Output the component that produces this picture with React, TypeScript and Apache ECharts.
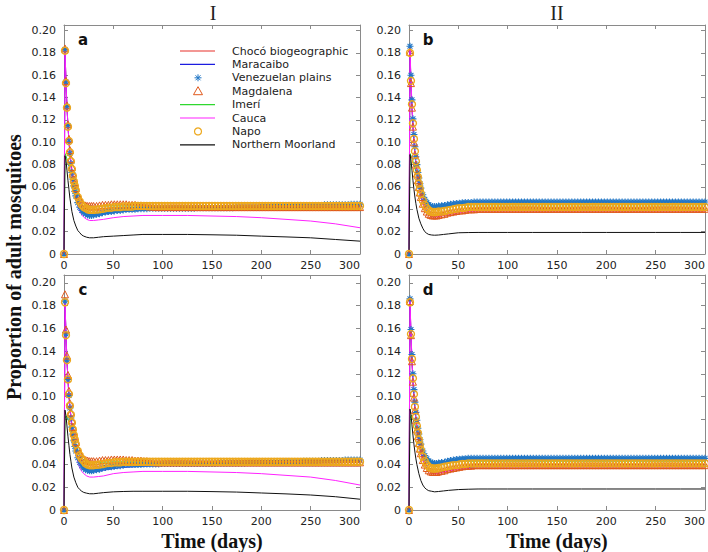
import React, { useEffect, useRef } from 'react';
import * as echarts from 'echarts';

// ---- time grids (days) ----
const TL = [0, 1, 2, 3, 4, 5, 6, 7, 8, 10, 12, 14, 16, 18, 20, 23, 26, 30, 35, 40, 50, 60, 70, 80, 100, 125, 150, 175, 200, 225, 250, 275, 300];
const TM = [0, 1, 2, 3, 4, 5, 6, 7, 8, 9, 10, 11, 12, 14, 16, 18, 20, 22, 24, 26, 28, 30,
  33, 36, 39, 42, 45, 48, 51, 54, 57, 60,
  63, 66, 69, 72, 75, 78, 81, 84, 87, 90,
  93, 96, 99, 102, 105, 108, 111, 114, 117, 120,
  123, 126, 129, 132, 135, 138, 141, 144, 147, 150,
  153, 156, 159, 162, 165, 168, 171, 174, 177, 180,
  183, 186, 189, 192, 195, 198, 201, 204, 207, 210,
  213, 216, 219, 222, 225, 228, 231, 234, 237, 240,
  243, 246, 249, 252, 255, 258, 261, 264, 267, 270,
  273, 276, 279, 282, 285, 288, 291, 294, 297, 300];

const X_TICKS = [0, 50, 100, 150, 200, 250, 300];
const NAMES = ['Chocó biogeographic', 'Maracaibo', 'Venezuelan plains', 'Magdalena', 'Imerí', 'Cauca', 'Napo', 'Northern Moorland'];

// ---- panel a (I, top) ----
const aChoco = [0, 0.183, 0.154, 0.132, 0.115, 0.102, 0.092, 0.083, 0.076, 0.065, 0.057, 0.051, 0.047, 0.044, 0.042, 0.040, 0.039, 0.0385, 0.039, 0.0395, 0.040, 0.0405, 0.041, 0.041, 0.041, 0.041, 0.041, 0.041, 0.041, 0.041, 0.041, 0.041, 0.041];
const aMara = [0, 0.183, 0.154, 0.132, 0.115, 0.101, 0.090, 0.081, 0.073, 0.061, 0.052, 0.046, 0.041, 0.038, 0.036, 0.0345, 0.034, 0.034, 0.0345, 0.0355, 0.037, 0.038, 0.0385, 0.039, 0.0395, 0.0395, 0.0395, 0.0395, 0.0395, 0.0395, 0.0395, 0.0395, 0.0395];
const aImeri = [0, 0.090, 0.088, 0.085, 0.082, 0.079, 0.076, 0.073, 0.070, 0.065, 0.060, 0.055, 0.051, 0.048, 0.046, 0.044, 0.043, 0.0425, 0.0425, 0.043, 0.043, 0.043, 0.043, 0.043, 0.043, 0.043, 0.043, 0.043, 0.043, 0.043, 0.043, 0.043, 0.043];
const aCauca = [0, 0.183, 0.154, 0.132, 0.115, 0.101, 0.090, 0.080, 0.072, 0.059, 0.050, 0.043, 0.038, 0.035, 0.033, 0.031, 0.030, 0.030, 0.0305, 0.031, 0.0325, 0.0335, 0.034, 0.0345, 0.0345, 0.0345, 0.034, 0.0335, 0.0325, 0.031, 0.0295, 0.027, 0.0235];
const aMoor = [0, 0.088, 0.084, 0.075, 0.066, 0.058, 0.050, 0.044, 0.038, 0.030, 0.025, 0.021, 0.019, 0.017, 0.016, 0.015, 0.0145, 0.0145, 0.015, 0.0155, 0.016, 0.0165, 0.017, 0.0175, 0.0175, 0.0175, 0.0172, 0.0168, 0.016, 0.0153, 0.0145, 0.013, 0.0115];
const aVen = [0, 0.183, 0.154, 0.132, 0.115, 0.101, 0.090, 0.081, 0.073, 0.067, 0.061, 0.056, 0.052,
  0.046, 0.042, 0.039, 0.037, 0.036, 0.035, 0.0345, 0.0345, 0.035,
  0.0355, 0.036, 0.037, 0.0375, 0.038, 0.038, 0.0385, 0.039, 0.039, 0.0395,
  0.040, 0.040, 0.040, 0.040, 0.0405, 0.0405, 0.0405, 0.0405, 0.041, 0.041,
  0.041, 0.041, 0.041, 0.041, 0.041, 0.041, 0.041, 0.041, 0.041, 0.041,
  0.041, 0.041, 0.041, 0.041, 0.0415, 0.0415, 0.0415, 0.0415, 0.0415, 0.0415,
  0.0415, 0.0415, 0.0415, 0.0415, 0.0415, 0.0415, 0.0415, 0.042, 0.042, 0.042,
  0.042, 0.042, 0.042, 0.042, 0.042, 0.042, 0.0425, 0.0425, 0.0425, 0.0425,
  0.043, 0.043, 0.043, 0.043, 0.043, 0.043, 0.043, 0.043, 0.043, 0.0435,
  0.0435, 0.0435, 0.0435, 0.0435, 0.0435, 0.0435, 0.0435, 0.044, 0.044, 0.044,
  0.044, 0.044, 0.044, 0.044, 0.044, 0.044, 0.0445, 0.0445, 0.0445, 0.0445];
const aMag = [0, 0.184, 0.155, 0.133, 0.116, 0.103, 0.093, 0.085, 0.078, 0.072, 0.067, 0.063, 0.059,
  0.053, 0.049, 0.046, 0.044, 0.0435, 0.043, 0.043, 0.043, 0.043,
  0.043, 0.0435, 0.044, 0.044, 0.044, 0.0445, 0.0445, 0.0445, 0.0445, 0.0445,
  0.0445, 0.044, 0.044, 0.044, 0.0435, 0.0435, 0.043, 0.043, 0.0425, 0.0425,
  0.042, 0.042, 0.042, 0.042, 0.042, 0.042, 0.042, 0.042, 0.042, 0.042,
  0.042, 0.042, 0.042, 0.042, 0.042, 0.042, 0.042, 0.042, 0.042, 0.042,
  0.042, 0.042, 0.042, 0.042, 0.042, 0.042, 0.042, 0.042, 0.042, 0.042,
  0.042, 0.042, 0.042, 0.042, 0.042, 0.042, 0.042, 0.042, 0.042, 0.042,
  0.042, 0.042, 0.042, 0.042, 0.042, 0.042, 0.042, 0.042, 0.042, 0.042,
  0.042, 0.042, 0.042, 0.042, 0.042, 0.042, 0.042, 0.042, 0.042, 0.042,
  0.042, 0.042, 0.042, 0.042, 0.042, 0.042, 0.042, 0.042, 0.042, 0.042];
const aNapo = [0, 0.182, 0.153, 0.131, 0.114, 0.101, 0.091, 0.083, 0.076, 0.070, 0.065, 0.061, 0.057,
  0.051, 0.047, 0.044, 0.042, 0.041, 0.040, 0.0395, 0.0395, 0.0395,
  0.0398, 0.040, 0.0405, 0.041, 0.0415, 0.0415, 0.042, 0.042, 0.042, 0.0425,
  0.0425, 0.0425, 0.0425, 0.043, 0.043, 0.043, 0.043, 0.043, 0.043, 0.043,
  0.043, 0.043, 0.043, 0.043, 0.043, 0.043, 0.043, 0.043, 0.043, 0.043,
  0.043, 0.043, 0.043, 0.043, 0.043, 0.043, 0.043, 0.043, 0.043, 0.043,
  0.043, 0.043, 0.043, 0.043, 0.043, 0.043, 0.043, 0.043, 0.043, 0.043,
  0.043, 0.043, 0.043, 0.043, 0.043, 0.043, 0.043, 0.043, 0.043, 0.043,
  0.043, 0.043, 0.043, 0.043, 0.043, 0.043, 0.043, 0.043, 0.043, 0.043,
  0.043, 0.043, 0.043, 0.043, 0.043, 0.043, 0.043, 0.043, 0.043, 0.043,
  0.043, 0.043, 0.043, 0.043, 0.043, 0.043, 0.043, 0.043, 0.043, 0.043];

// ---- panel b (II, top) ----
const bChoco = [0, 0.181, 0.153, 0.131, 0.114, 0.100, 0.089, 0.080, 0.072, 0.060, 0.051, 0.045, 0.040, 0.037, 0.035, 0.0335, 0.033, 0.0335, 0.0345, 0.0355, 0.037, 0.038, 0.0385, 0.0385, 0.0385, 0.0385, 0.0385, 0.0385, 0.0385, 0.0385, 0.0385, 0.0385, 0.0385];
const bMara = [0, 0.182, 0.154, 0.132, 0.115, 0.101, 0.090, 0.081, 0.073, 0.061, 0.052, 0.046, 0.041, 0.038, 0.036, 0.0345, 0.034, 0.0345, 0.0355, 0.0365, 0.038, 0.039, 0.0395, 0.0395, 0.0395, 0.0395, 0.0395, 0.0395, 0.0395, 0.0395, 0.0395, 0.0395, 0.0395];
const bImeri = [0, 0.090, 0.088, 0.086, 0.083, 0.080, 0.077, 0.074, 0.071, 0.065, 0.060, 0.055, 0.051, 0.048, 0.046, 0.044, 0.043, 0.042, 0.0425, 0.043, 0.0435, 0.044, 0.044, 0.044, 0.044, 0.044, 0.044, 0.044, 0.044, 0.044, 0.044, 0.044, 0.044];
const bCauca = [0, 0.184, 0.156, 0.134, 0.116, 0.102, 0.090, 0.081, 0.073, 0.060, 0.051, 0.045, 0.040, 0.037, 0.035, 0.0335, 0.033, 0.0335, 0.0345, 0.0355, 0.037, 0.038, 0.0385, 0.0385, 0.0385, 0.0385, 0.0385, 0.0385, 0.0385, 0.0385, 0.0385, 0.0385, 0.0385];
const bMoor = [0, 0.089, 0.084, 0.075, 0.066, 0.058, 0.051, 0.045, 0.040, 0.032, 0.027, 0.023, 0.020, 0.0185, 0.0175, 0.017, 0.0168, 0.017, 0.0175, 0.018, 0.019, 0.0192, 0.0193, 0.0193, 0.0193, 0.0193, 0.0193, 0.0193, 0.0193, 0.0193, 0.0193, 0.0193, 0.0193];
const bVen = [0, 0.186, 0.160, 0.138, 0.121, 0.107, 0.096, 0.087, 0.080, 0.073, 0.068, 0.063, 0.059,
  0.053, 0.049, 0.046, 0.044, 0.043, 0.0425, 0.0425, 0.0425, 0.043,
  0.0432, 0.0435, 0.044, 0.0445, 0.045, 0.0452, 0.0455, 0.0458, 0.046, 0.046,
  0.046, 0.0465, 0.0465, 0.0465, 0.0465, 0.0465, 0.0465, 0.0465, 0.0465, 0.0465,
  0.0465, 0.0465, 0.0465, 0.0465, 0.0465, 0.0465, 0.0465, 0.0465, 0.0465, 0.0465,
  0.0465, 0.0465, 0.0465, 0.0465, 0.0465, 0.0465, 0.0465, 0.0465, 0.0465, 0.0465,
  0.0465, 0.0465, 0.0465, 0.0465, 0.0465, 0.0465, 0.0465, 0.0465, 0.0465, 0.0465,
  0.0465, 0.0465, 0.0465, 0.0465, 0.0465, 0.0465, 0.0465, 0.0465, 0.0465, 0.0465,
  0.0465, 0.0465, 0.0465, 0.0465, 0.0465, 0.0465, 0.0465, 0.0465, 0.0465, 0.0465,
  0.0465, 0.0465, 0.0465, 0.0465, 0.0465, 0.0465, 0.0465, 0.0465, 0.0465, 0.0465,
  0.0465, 0.0465, 0.0465, 0.0465, 0.0465, 0.0465, 0.0465, 0.0465, 0.0465, 0.0465];
const bMag = [0, 0.181, 0.153, 0.131, 0.114, 0.100, 0.089, 0.080, 0.072, 0.066, 0.060, 0.055, 0.051,
  0.045, 0.041, 0.038, 0.036, 0.035, 0.0345, 0.0345, 0.0345, 0.035,
  0.0355, 0.036, 0.037, 0.0375, 0.038, 0.0385, 0.039, 0.039, 0.0395, 0.040,
  0.040, 0.040, 0.0405, 0.0405, 0.0405, 0.0405, 0.0405, 0.0405, 0.0405, 0.0405,
  0.0405, 0.0405, 0.0405, 0.0405, 0.0405, 0.0405, 0.0405, 0.0405, 0.0405, 0.0405,
  0.0405, 0.0405, 0.0405, 0.0405, 0.0405, 0.0405, 0.0405, 0.0405, 0.0405, 0.0405,
  0.0405, 0.0405, 0.0405, 0.0405, 0.0405, 0.0405, 0.0405, 0.0405, 0.0405, 0.0405,
  0.0405, 0.0405, 0.0405, 0.0405, 0.0405, 0.0405, 0.0405, 0.0405, 0.0405, 0.0405,
  0.0405, 0.0405, 0.0405, 0.0405, 0.0405, 0.0405, 0.0405, 0.0405, 0.0405, 0.0405,
  0.0405, 0.0405, 0.0405, 0.0405, 0.0405, 0.0405, 0.0405, 0.0405, 0.0405, 0.0405,
  0.0405, 0.0405, 0.0405, 0.0405, 0.0405, 0.0405, 0.0405, 0.0405, 0.0405, 0.0405];
const bNapo = [0, 0.180, 0.155, 0.134, 0.117, 0.103, 0.092, 0.083, 0.075, 0.069, 0.063, 0.058, 0.054,
  0.048, 0.044, 0.041, 0.039, 0.038, 0.0375, 0.0375, 0.0375, 0.038,
  0.038, 0.0385, 0.039, 0.0395, 0.040, 0.0405, 0.041, 0.041, 0.0415, 0.042,
  0.042, 0.042, 0.042, 0.042, 0.042, 0.042, 0.042, 0.042, 0.042, 0.042,
  0.042, 0.042, 0.042, 0.042, 0.042, 0.042, 0.042, 0.042, 0.042, 0.042,
  0.042, 0.042, 0.042, 0.042, 0.042, 0.042, 0.042, 0.042, 0.042, 0.042,
  0.042, 0.042, 0.042, 0.042, 0.042, 0.042, 0.042, 0.042, 0.042, 0.042,
  0.042, 0.042, 0.042, 0.042, 0.042, 0.042, 0.042, 0.042, 0.042, 0.042,
  0.042, 0.042, 0.042, 0.042, 0.042, 0.042, 0.042, 0.042, 0.042, 0.042,
  0.042, 0.042, 0.042, 0.042, 0.042, 0.042, 0.042, 0.042, 0.042, 0.042,
  0.042, 0.042, 0.042, 0.042, 0.042, 0.042, 0.042, 0.042, 0.042, 0.042];

// ---- panel c (I, bottom) ----
const cChoco = [0, 0.183, 0.154, 0.132, 0.115, 0.102, 0.092, 0.083, 0.076, 0.065, 0.057, 0.051, 0.047, 0.044, 0.042, 0.040, 0.039, 0.0385, 0.0385, 0.039, 0.0395, 0.040, 0.040, 0.040, 0.040, 0.040, 0.040, 0.040, 0.040, 0.040, 0.040, 0.040, 0.040];
const cMara = [0, 0.184, 0.155, 0.132, 0.115, 0.101, 0.090, 0.081, 0.073, 0.061, 0.052, 0.046, 0.041, 0.038, 0.036, 0.034, 0.0335, 0.0335, 0.034, 0.035, 0.0365, 0.0375, 0.038, 0.0385, 0.039, 0.039, 0.039, 0.039, 0.039, 0.039, 0.039, 0.039, 0.039];
const cImeri = [0, 0.080, 0.083, 0.082, 0.080, 0.077, 0.074, 0.071, 0.068, 0.063, 0.058, 0.053, 0.049, 0.046, 0.044, 0.0425, 0.042, 0.0415, 0.042, 0.042, 0.0425, 0.0425, 0.0425, 0.0425, 0.0425, 0.0425, 0.0425, 0.0425, 0.0425, 0.0425, 0.0425, 0.0425, 0.0425];
const cCauca = [0, 0.184, 0.155, 0.132, 0.115, 0.101, 0.090, 0.080, 0.072, 0.059, 0.049, 0.042, 0.037, 0.034, 0.032, 0.030, 0.029, 0.029, 0.0295, 0.030, 0.032, 0.033, 0.0335, 0.034, 0.034, 0.034, 0.0335, 0.033, 0.032, 0.0305, 0.029, 0.026, 0.022];
const cMoor = [0, 0.088, 0.083, 0.074, 0.065, 0.057, 0.049, 0.043, 0.037, 0.029, 0.024, 0.020, 0.018, 0.0165, 0.0155, 0.0148, 0.0143, 0.0143, 0.0148, 0.0153, 0.016, 0.0163, 0.0165, 0.0165, 0.0165, 0.0165, 0.0162, 0.0158, 0.015, 0.0142, 0.0132, 0.0117, 0.0095];
const cVen = [0, 0.184, 0.155, 0.132, 0.115, 0.101, 0.090, 0.081, 0.073, 0.067, 0.061, 0.056, 0.052,
  0.046, 0.042, 0.039, 0.037, 0.0355, 0.035, 0.0345, 0.0345, 0.035,
  0.0355, 0.036, 0.037, 0.0375, 0.038, 0.038, 0.0385, 0.039, 0.039, 0.0395,
  0.040, 0.040, 0.040, 0.040, 0.040, 0.040, 0.0405, 0.0405, 0.0405, 0.0405,
  0.0405, 0.0405, 0.041, 0.041, 0.041, 0.041, 0.041, 0.041, 0.041, 0.041,
  0.041, 0.041, 0.041, 0.041, 0.041, 0.041, 0.041, 0.041, 0.041, 0.041,
  0.041, 0.0415, 0.0415, 0.0415, 0.0415, 0.0415, 0.0415, 0.0415, 0.0415, 0.0415,
  0.0415, 0.042, 0.042, 0.042, 0.042, 0.042, 0.042, 0.042, 0.042, 0.042,
  0.042, 0.042, 0.042, 0.0425, 0.0425, 0.0425, 0.0425, 0.0425, 0.0425, 0.0425,
  0.043, 0.043, 0.043, 0.043, 0.043, 0.043, 0.0435, 0.0435, 0.0435, 0.0435,
  0.0435, 0.0435, 0.0435, 0.0435, 0.044, 0.044, 0.044, 0.044, 0.044, 0.044];
const cMag = [0, 0.190, 0.159, 0.136, 0.119, 0.105, 0.094, 0.086, 0.079, 0.073, 0.068, 0.064, 0.060,
  0.054, 0.050, 0.047, 0.045, 0.044, 0.0435, 0.043, 0.043, 0.043,
  0.043, 0.0435, 0.044, 0.044, 0.044, 0.0445, 0.0445, 0.0445, 0.0445, 0.0445,
  0.044, 0.044, 0.044, 0.0435, 0.0435, 0.0435, 0.043, 0.043, 0.0425, 0.0425,
  0.042, 0.042, 0.042, 0.042, 0.042, 0.042, 0.042, 0.042, 0.042, 0.042,
  0.042, 0.042, 0.042, 0.042, 0.042, 0.042, 0.042, 0.042, 0.042, 0.042,
  0.042, 0.042, 0.042, 0.042, 0.042, 0.042, 0.042, 0.042, 0.042, 0.042,
  0.042, 0.042, 0.042, 0.042, 0.042, 0.042, 0.042, 0.042, 0.042, 0.042,
  0.042, 0.042, 0.042, 0.042, 0.042, 0.042, 0.042, 0.042, 0.042, 0.042,
  0.042, 0.042, 0.042, 0.042, 0.042, 0.042, 0.042, 0.042, 0.042, 0.042,
  0.042, 0.042, 0.042, 0.042, 0.042, 0.042, 0.042, 0.042, 0.042, 0.042];
const cNapo = [0, 0.183, 0.154, 0.132, 0.115, 0.102, 0.092, 0.084, 0.077, 0.071, 0.066, 0.062, 0.058,
  0.052, 0.048, 0.045, 0.043, 0.041, 0.040, 0.0395, 0.0395, 0.0395,
  0.0398, 0.040, 0.0405, 0.041, 0.0415, 0.0415, 0.042, 0.042, 0.042, 0.0425,
  0.0425, 0.0425, 0.0425, 0.0425, 0.0425, 0.0425, 0.0425, 0.0425, 0.0425, 0.0425,
  0.0425, 0.0425, 0.0425, 0.0425, 0.0425, 0.0425, 0.0425, 0.0425, 0.0425, 0.0425,
  0.0425, 0.0425, 0.0425, 0.0425, 0.0425, 0.0425, 0.0425, 0.0425, 0.0425, 0.0425,
  0.0425, 0.0425, 0.0425, 0.0425, 0.0425, 0.0425, 0.0425, 0.0425, 0.0425, 0.0425,
  0.0425, 0.0425, 0.0425, 0.0425, 0.0425, 0.0425, 0.0425, 0.0425, 0.0425, 0.0425,
  0.0425, 0.0425, 0.0425, 0.0425, 0.0425, 0.0425, 0.0425, 0.0425, 0.0425, 0.0425,
  0.0425, 0.0425, 0.0425, 0.0425, 0.0425, 0.0425, 0.0425, 0.0425, 0.0425, 0.0425,
  0.0425, 0.0425, 0.0425, 0.0425, 0.0425, 0.0425, 0.0425, 0.0425, 0.0425, 0.0425];

// ---- panel d (II, bottom) ----
const dChoco = [0, 0.183, 0.154, 0.131, 0.113, 0.099, 0.088, 0.079, 0.071, 0.059, 0.050, 0.044, 0.039, 0.036, 0.034, 0.0325, 0.032, 0.0325, 0.0335, 0.0345, 0.036, 0.0365, 0.037, 0.037, 0.037, 0.037, 0.037, 0.037, 0.037, 0.037, 0.037, 0.037, 0.037];
const dMara = [0, 0.184, 0.155, 0.132, 0.114, 0.100, 0.089, 0.080, 0.072, 0.060, 0.051, 0.045, 0.040, 0.037, 0.035, 0.0335, 0.033, 0.0335, 0.0345, 0.0355, 0.037, 0.0375, 0.038, 0.038, 0.038, 0.038, 0.038, 0.038, 0.038, 0.038, 0.038, 0.038, 0.038];
const dImeri = [0, 0.080, 0.083, 0.083, 0.081, 0.078, 0.075, 0.072, 0.069, 0.064, 0.059, 0.054, 0.050, 0.047, 0.045, 0.043, 0.042, 0.0415, 0.042, 0.0425, 0.043, 0.043, 0.043, 0.043, 0.043, 0.043, 0.043, 0.043, 0.043, 0.043, 0.043, 0.043, 0.043];
const dCauca = [0, 0.185, 0.156, 0.133, 0.115, 0.101, 0.089, 0.080, 0.072, 0.059, 0.050, 0.044, 0.039, 0.036, 0.034, 0.0325, 0.032, 0.0325, 0.0335, 0.0345, 0.036, 0.0365, 0.037, 0.037, 0.037, 0.037, 0.037, 0.037, 0.037, 0.037, 0.037, 0.037, 0.037];
const dMoor = [0, 0.089, 0.084, 0.075, 0.066, 0.058, 0.051, 0.045, 0.040, 0.032, 0.026, 0.022, 0.0195, 0.018, 0.017, 0.0165, 0.016, 0.0163, 0.0168, 0.0173, 0.018, 0.0183, 0.0185, 0.0185, 0.0185, 0.0185, 0.0185, 0.0185, 0.0185, 0.0185, 0.0185, 0.0185, 0.0185];
const dVen = [0, 0.186, 0.159, 0.137, 0.120, 0.106, 0.095, 0.086, 0.079, 0.072, 0.067, 0.062, 0.058,
  0.052, 0.048, 0.045, 0.043, 0.042, 0.0415, 0.041, 0.041, 0.0415,
  0.0418, 0.042, 0.043, 0.0435, 0.044, 0.0445, 0.0448, 0.045, 0.0452, 0.0455,
  0.0455, 0.0455, 0.0455, 0.0455, 0.0455, 0.0455, 0.0455, 0.0455, 0.0455, 0.0455,
  0.0455, 0.0455, 0.0455, 0.0455, 0.0455, 0.0455, 0.0455, 0.0455, 0.0455, 0.0455,
  0.0455, 0.0455, 0.0455, 0.0455, 0.0455, 0.0455, 0.0455, 0.0455, 0.0455, 0.0455,
  0.0455, 0.0455, 0.0455, 0.0455, 0.0455, 0.0455, 0.0455, 0.0455, 0.0455, 0.0455,
  0.0455, 0.0455, 0.0455, 0.0455, 0.0455, 0.0455, 0.0455, 0.0455, 0.0455, 0.0455,
  0.0455, 0.0455, 0.0455, 0.0455, 0.0455, 0.0455, 0.0455, 0.0455, 0.0455, 0.0455,
  0.0455, 0.0455, 0.0455, 0.0455, 0.0455, 0.0455, 0.0455, 0.0455, 0.0455, 0.0455,
  0.0455, 0.0455, 0.0455, 0.0455, 0.0455, 0.0455, 0.0455, 0.0455, 0.0455, 0.0455];
const dMag = [0, 0.184, 0.154, 0.131, 0.113, 0.099, 0.088, 0.079, 0.071, 0.065, 0.059, 0.054, 0.050,
  0.044, 0.040, 0.037, 0.035, 0.034, 0.0335, 0.0335, 0.0335, 0.034,
  0.0345, 0.035, 0.036, 0.0365, 0.037, 0.0375, 0.038, 0.0385, 0.039, 0.039,
  0.039, 0.0395, 0.0395, 0.0395, 0.0395, 0.0395, 0.0395, 0.0395, 0.0395, 0.0395,
  0.0395, 0.0395, 0.0395, 0.0395, 0.0395, 0.0395, 0.0395, 0.0395, 0.0395, 0.0395,
  0.0395, 0.0395, 0.0395, 0.0395, 0.0395, 0.0395, 0.0395, 0.0395, 0.0395, 0.0395,
  0.0395, 0.0395, 0.0395, 0.0395, 0.0395, 0.0395, 0.0395, 0.0395, 0.0395, 0.0395,
  0.0395, 0.0395, 0.0395, 0.0395, 0.0395, 0.0395, 0.0395, 0.0395, 0.0395, 0.0395,
  0.0395, 0.0395, 0.0395, 0.0395, 0.0395, 0.0395, 0.0395, 0.0395, 0.0395, 0.0395,
  0.0395, 0.0395, 0.0395, 0.0395, 0.0395, 0.0395, 0.0395, 0.0395, 0.0395, 0.0395,
  0.0395, 0.0395, 0.0395, 0.0395, 0.0395, 0.0395, 0.0395, 0.0395, 0.0395, 0.0395];
const dNapo = [0, 0.183, 0.155, 0.133, 0.116, 0.102, 0.091, 0.082, 0.074, 0.068, 0.062, 0.057, 0.053,
  0.047, 0.043, 0.040, 0.038, 0.037, 0.0365, 0.0365, 0.0365, 0.037,
  0.0375, 0.038, 0.0385, 0.039, 0.0395, 0.0395, 0.040, 0.0405, 0.0405, 0.041,
  0.041, 0.041, 0.041, 0.041, 0.041, 0.041, 0.041, 0.041, 0.041, 0.041,
  0.041, 0.041, 0.041, 0.041, 0.041, 0.041, 0.041, 0.041, 0.041, 0.041,
  0.041, 0.041, 0.041, 0.041, 0.041, 0.041, 0.041, 0.041, 0.041, 0.041,
  0.041, 0.041, 0.041, 0.041, 0.041, 0.041, 0.041, 0.041, 0.041, 0.041,
  0.041, 0.041, 0.041, 0.041, 0.041, 0.041, 0.041, 0.041, 0.041, 0.041,
  0.041, 0.041, 0.041, 0.041, 0.041, 0.041, 0.041, 0.041, 0.041, 0.041,
  0.041, 0.041, 0.041, 0.041, 0.041, 0.041, 0.041, 0.041, 0.041, 0.041,
  0.041, 0.041, 0.041, 0.041, 0.041, 0.041, 0.041, 0.041, 0.041, 0.041];

const C = {
  choco: '#e8302a', mara: '#1c1ce0', ven: '#2277c6', mag: '#e05a1e',
  imeri: '#2fd82f', cauca: '#ff22ff', napo: '#eda81c', moor: '#111111',
};
const AX = '#8a8a8a';
const ASTERISK = 'path://M0,5L10,5M5,0L5,10M1.5,1.5L8.5,8.5M8.5,1.5L1.5,8.5';
const SANS = '"DejaVu Sans", Verdana, sans-serif';
const SERIF = '"Liberation Serif", "Times New Roman", serif';

const PANELS = [
  { letter: 'a', left: 64, top: 25, height: 229, yMax: 0.205, L: [aChoco, aMara, aImeri, aCauca, aMoor], M: [aVen, aMag, aNapo] },
  { letter: 'b', left: 409, top: 25, height: 229, yMax: 0.205, L: [bChoco, bMara, bImeri, bCauca, bMoor], M: [bVen, bMag, bNapo] },
  { letter: 'c', left: 64, top: 275, height: 235, yMax: 0.207, L: [cChoco, cMara, cImeri, cCauca, cMoor], M: [cVen, cMag, cNapo] },
  { letter: 'd', left: 409, top: 275, height: 235, yMax: 0.207, L: [dChoco, dMara, dImeri, dCauca, dMoor], M: [dVen, dMag, dNapo] },
];
const PW = 296;

function buildOption() {
  const grid: any[] = [];
  const xAxis: any[] = [];
  const yAxis: any[] = [];
  const series: any[] = [];
  const graphic: any[] = [];
  const lineKeys = ['choco', 'mara', 'imeri', 'cauca', 'moor'];
  const lineNames = [NAMES[0], NAMES[1], NAMES[4], NAMES[5], NAMES[7]];
  const markKeys = ['ven', 'mag', 'napo'];
  const markNames = [NAMES[2], NAMES[3], NAMES[6]];
  const markSym = [ASTERISK, 'triangle', 'circle'];
  const markSize = [7, 7, 7];
  const markBorder = [1.1, 1, 1.4];

  PANELS.forEach((p, i) => {
    grid.push({ left: p.left, top: p.top, width: PW, height: p.height });
    const common = {
      gridIndex: i, type: 'value', min: 0, max: X_TICKS[X_TICKS.length - 1], interval: 50,
      splitLine: { show: false },
      axisLine: { show: true, onZero: false, lineStyle: { color: AX, width: 1 } },
      axisTick: { show: true, inside: true, length: 4, lineStyle: { color: AX } },
    };
    xAxis.push({
      ...common, position: 'bottom',
      axisLabel: { show: true, fontSize: 11, fontFamily: SANS, color: '#222', margin: 6, alignMaxLabel: 'right' },
    });
    xAxis.push({ ...common, position: 'top', axisLabel: { show: false } });
    const ycommon = {
      gridIndex: i, type: 'value', min: 0, max: p.yMax, interval: 0.02,
      splitLine: { show: false },
      axisLine: { show: true, onZero: false, lineStyle: { color: AX, width: 1 } },
      axisTick: { show: true, inside: true, length: 4, lineStyle: { color: AX } },
    };
    yAxis.push({
      ...ycommon, position: 'left',
      axisLabel: {
        show: true, fontSize: 11, fontFamily: SANS, color: '#222', margin: 8, showMaxLabel: false,
        padding: [0, 0, 8, 0],
        formatter: (v: number) => (v === 0 ? '0' : v.toFixed(2)),
      },
    });
    yAxis.push({ ...ycommon, position: 'right', axisLabel: { show: false } });

    p.L.forEach((vals, k) => {
      series.push({
        type: 'line', name: lineNames[k], xAxisIndex: 2 * i, yAxisIndex: 2 * i,
        data: TL.map((t, j) => [t, vals[j]]),
        showSymbol: false, symbol: 'none', smooth: false,
        lineStyle: { color: (C as any)[lineKeys[k]], width: 1 },
        itemStyle: { color: (C as any)[lineKeys[k]] },
        z: 2,
      });
    });
    p.M.forEach((vals, k) => {
      const col = (C as any)[markKeys[k]];
      series.push({
        type: 'line', name: markNames[k], xAxisIndex: 2 * i, yAxisIndex: 2 * i,
        data: TM.map((t, j) => [t, vals[j]]),
        showSymbol: true, showAllSymbol: true, symbol: markSym[k], symbolSize: markSize[k],
        lineStyle: { opacity: 0, width: 0 },
        itemStyle: { color: 'rgba(0,0,0,0)', borderColor: col, borderWidth: markBorder[k] },
        z: 3,
      });
    });

    graphic.push({
      type: 'text', x: p.left + 19, y: p.top + 15,
      style: { text: p.letter, font: `bold 15px ${SANS}`, fill: '#111', align: 'center', verticalAlign: 'middle' },
    });
  });

  // titles
  graphic.push({ type: 'text', x: 213, y: 13, style: { text: 'I', font: `20px ${SERIF}`, fill: '#222', align: 'center', verticalAlign: 'middle' } });
  graphic.push({ type: 'text', x: 557, y: 13, style: { text: 'II', font: `20px ${SERIF}`, fill: '#222', align: 'center', verticalAlign: 'middle' } });
  graphic.push({ type: 'text', x: 212, y: 541, style: { text: 'Time (days)', font: `bold 20px ${SERIF}`, fill: '#111', align: 'center', verticalAlign: 'middle' } });
  graphic.push({ type: 'text', x: 557, y: 541, style: { text: 'Time (days)', font: `bold 20px ${SERIF}`, fill: '#111', align: 'center', verticalAlign: 'middle' } });
  graphic.push({ type: 'text', x: 14, y: 267, rotation: Math.PI / 2, style: { text: 'Proportion of adult mosquitoes', font: `bold 20px ${SERIF}`, fill: '#111', align: 'center', verticalAlign: 'middle' } });

  // legend (panel a)
  const kinds = ['line', 'line', 'ast', 'tri', 'line', 'line', 'circ', 'line'];
  const cols = [C.choco, C.mara, C.ven, C.mag, C.imeri, C.cauca, C.napo, C.moor];
  NAMES.forEach((name, k) => {
    const y = 51 + k * 13.4;
    const c = cols[k];
    const cx = 198;
    if (kinds[k] === 'line') {
      graphic.push({ type: 'line', shape: { x1: 180, y1: y, x2: 215, y2: y }, style: { stroke: c, lineWidth: 1.2 } });
    } else if (kinds[k] === 'ast') {
      const r = 3.5, d = 2.5;
      graphic.push({
        type: 'group', children: [
          { type: 'line', shape: { x1: cx - r, y1: y, x2: cx + r, y2: y }, style: { stroke: c, lineWidth: 1 } },
          { type: 'line', shape: { x1: cx, y1: y - r, x2: cx, y2: y + r }, style: { stroke: c, lineWidth: 1 } },
          { type: 'line', shape: { x1: cx - d, y1: y - d, x2: cx + d, y2: y + d }, style: { stroke: c, lineWidth: 1 } },
          { type: 'line', shape: { x1: cx + d, y1: y - d, x2: cx - d, y2: y + d }, style: { stroke: c, lineWidth: 1 } },
        ],
      });
    } else if (kinds[k] === 'tri') {
      graphic.push({ type: 'polygon', shape: { points: [[cx, y - 4.5], [cx + 4.5, y + 3.5], [cx - 4.5, y + 3.5]] }, style: { fill: 'none', stroke: c, lineWidth: 1 } });
    } else {
      graphic.push({ type: 'circle', shape: { cx, cy: y, r: 3.5 }, style: { fill: 'none', stroke: c, lineWidth: 1.2 } });
    }
    graphic.push({ type: 'text', x: 232, y, style: { text: name, font: `11px ${SANS}`, fill: '#222', align: 'left', verticalAlign: 'middle' } });
  });

  return { animation: false, backgroundColor: '#fff', grid, xAxis, yAxis, series, graphic };
}

export default function App() {
  const ref = useRef<HTMLDivElement>(null);
  useEffect(() => {
    if (!ref.current) return;
    const chart = echarts.init(ref.current, undefined, { renderer: 'svg' });
    chart.setOption(buildOption() as any);
    return () => chart.dispose();
  }, []);
  return <div ref={ref} style={{ position: 'absolute', left: 0, top: 0, width: 708, height: 552, background: '#fff' }} />;
}
